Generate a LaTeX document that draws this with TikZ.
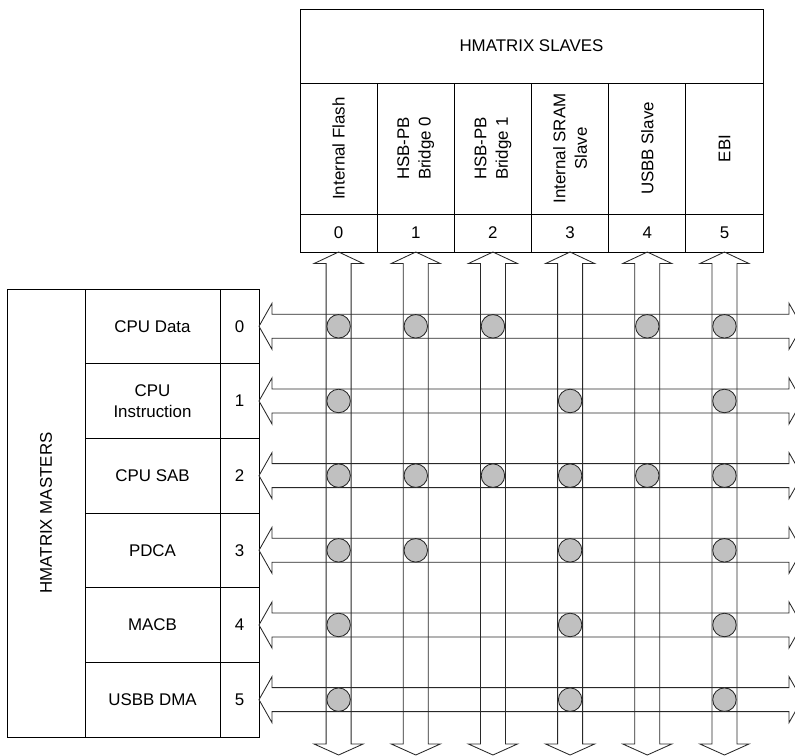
\documentclass[tikz,border=0pt]{standalone}
\usepackage{fontspec}
\setmainfont{Liberation Sans}
\definecolor{dotgray}{RGB}{192,192,192}
\definecolor{linegray}{RGB}{40,40,40}
\begin{document}
\begin{tikzpicture}[x=1pt,y=-1pt,
  boxline/.style={draw=black,line width=0.9pt},
  txt/.style={font=\fontsize{16.9}{21.5}\selectfont,align=center,inner sep=0pt},
  busarrow/.style={draw=linegray,line width=0.85pt},
  joint/.style={circle,draw=linegray,line width=0.85pt,fill=dotgray,minimum size=23.5pt,inner sep=0pt}]
\useasboundingbox (0,0) rectangle (795,755);
\begin{scope}
\clip (0,0) rectangle (795,755);
% ---------------- slaves box ----------------
\draw[boxline] (300,9) rectangle (763,252);
\draw[boxline] (300,83) -- (763,83);
\draw[boxline] (300,214) -- (763,214);
\foreach \i in {1,...,5}{
  \draw[boxline] ({300+\i*77.17},83) -- ({300+\i*77.17},252);
}
\node[txt] (slaves) at (531.5,46) {HMATRIX SLAVES};
\foreach \i/\t in {0/{Internal Flash},1/{HSB-PB\\Bridge 0},2/{HSB-PB\\Bridge 1},3/{Internal SRAM\\Slave},4/{USBB Slave},5/{EBI}}{
  \node[txt,rotate=90] (sname\i) at ({338.6+\i*77.17},148.5) {\t};
  \node[txt] (snum\i) at ({338.6+\i*77.17},233) {\i};
}
% ---------------- masters box ----------------
\draw[boxline] (7,289) rectangle (259,737);
\draw[boxline] (85,289) -- (85,737);
\draw[boxline] (220,289) -- (220,737);
\foreach \j in {1,...,5}{
  \draw[boxline] (85,{289+\j*74.67}) -- (259,{289+\j*74.67});
}
\node[txt,rotate=90] (masters) at (46,513) {HMATRIX MASTERS};
\foreach \j/\t in {0/{CPU Data},1/{CPU\\Instruction},2/{CPU SAB},3/{PDCA},4/{MACB},5/{USBB DMA}}{
  \node[txt] (mname\j) at (152.5,{326.3+\j*74.67}) {\t};
  \node[txt] (mnum\j) at (239.5,{326.3+\j*74.67}) {\j};
}
% ---------------- horizontal bus arrows ----------------
\foreach \j in {0,...,5}{
  \pgfmathsetmacro{\c}{326.3+\j*74.67}
  \draw[busarrow] (259,\c) -- (272,\c-23) -- (272,\c-12) -- (789,\c-12) -- (789,\c-23)
     -- (802,\c) -- (789,\c+23) -- (789,\c+12) -- (272,\c+12) -- (272,\c+23) -- cycle;
}
% ---------------- vertical bus arrows ----------------
\foreach \i in {0,...,5}{
  \pgfmathsetmacro{\c}{338.6+\i*77.17}
  \draw[busarrow] (\c,252) -- (\c+24.5,263.5) -- (\c+12.5,263.5) -- (\c+12.5,744) -- (\c+24.5,744)
     -- (\c,755) -- (\c-24.5,744) -- (\c-12.5,744) -- (\c-12.5,263.5) -- (\c-24.5,263.5) -- cycle;
}
% ---------------- connection points ----------------
\foreach \j/\i in {0/0,0/1,0/2,0/4,0/5,
                   1/0,1/3,1/5,
                   2/0,2/1,2/2,2/3,2/4,2/5,
                   3/0,3/1,3/3,3/5,
                   4/0,4/3,4/5,
                   5/0,5/3,5/5}{
  \node[joint] (j\j\i) at ({338.6+\i*77.17},{326.3+\j*74.67}) {};
}
\end{scope}
\end{tikzpicture}
\end{document}
